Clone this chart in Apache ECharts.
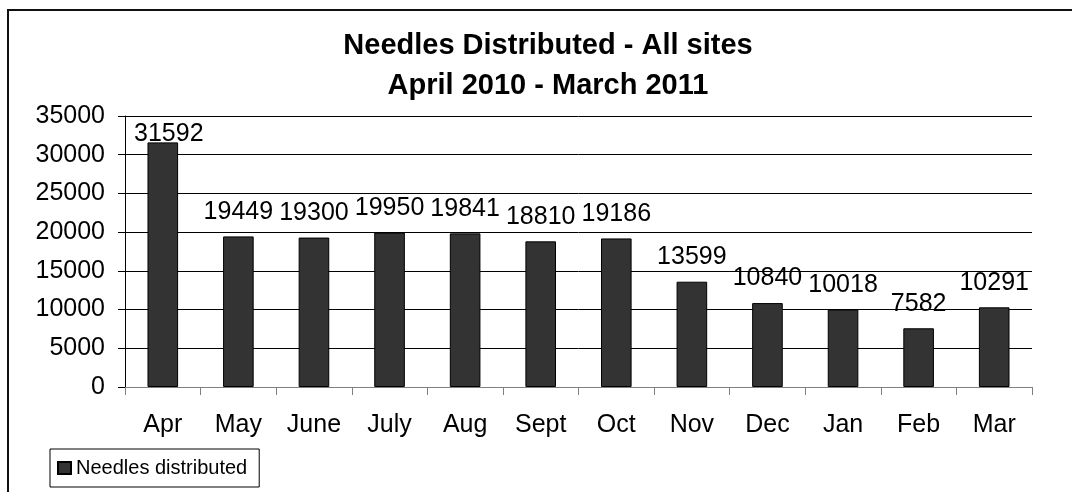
<!DOCTYPE html>
<html>
<head>
<meta charset="utf-8">
<script src="https://cdn.jsdelivr.net/npm/echarts@6/dist/echarts.min.js"></script>
<style>
html,body{margin:0;padding:0;background:#fff;overflow:hidden;}
#chart{width:1072px;height:492px;}
</style>
</head>
<body>
<div id="chart"></div>
<script>
var titleLines = ['Needles Distributed - All sites', 'April 2010 - March 2011'];
var categories = ['Apr','May','June','July','Aug','Sept','Oct','Nov','Dec','Jan','Feb','Mar'];
var needles = [31592,19449,19300,19950,19841,18810,19186,13599,10840,10018,7582,10291];
var yTicks = [0,5000,10000,15000,20000,25000,30000,35000];
var seriesName = 'Needles distributed';

var FONT = '"Liberation Sans", Arial, sans-serif';
var chart = echarts.init(document.getElementById('chart'), null, {renderer:'canvas'});

var barData = needles.map(function(v, i){
  if (i === 0) {
    return {value: v, label: {distance: -4, offset: [6, 0]}};
  }
  return v;
});

chart.setOption({
  animation: false,
  backgroundColor: '#fff',
  textStyle: {fontFamily: FONT},
  graphic: [
    {type:'rect', silent:true, shape:{x:8, y:10, width:1200, height:700},
     style:{fill:'none', stroke:'#111', lineWidth:2}},
    {type:'text', x:548, y:46.3, style:{text:titleLines[0], font:'bold 29px ' + FONT, fill:'#000', textAlign:'center', textVerticalAlign:'middle'}},
    {type:'text', x:548, y:86.3, style:{text:titleLines[1], font:'bold 29px ' + FONT, fill:'#000', textAlign:'center', textVerticalAlign:'middle'}}
  ],
  legend: {
    data: [seriesName],
    left: 50, top: 449,
    orient: 'horizontal',
    icon: 'rect',
    itemWidth: 13, itemHeight: 12,
    borderColor: '#000', borderWidth: 1,
    padding: [9, 12, 9, 7],
    textStyle: {fontSize: 20, color: '#000', fontFamily: FONT, lineHeight: 20}
  },
  grid: {left:125, right:40, top:116, bottom:105, containLabel:false},
  xAxis: {
    type: 'category',
    data: categories,
    axisLine: {show:true, lineStyle:{color:'#808080', width:1}},
    axisTick: {show:true, length:8, lineStyle:{color:'#808080'}},
    axisLabel: {fontSize:25, color:'#000', margin:26, fontFamily: FONT, interval:0},
    splitLine: {show:false}
  },
  yAxis: {
    type: 'value',
    min: yTicks[0], max: yTicks[yTicks.length-1], interval: yTicks[1]-yTicks[0],
    axisLine: {show:true, lineStyle:{color:'#000', width:1}},
    axisTick: {show:true, length:7, lineStyle:{color:'#000'}},
    axisLabel: {fontSize:25, color:'#000', margin:20, fontFamily: FONT,
      formatter: function(v){ return String(v); }},
    splitLine: {show:true, lineStyle:{color:'#000', width:1}}
  },
  series: [{
    name: seriesName,
    type: 'bar',
    data: barData,
    barWidth: '40.5%',
    itemStyle: {color:'#333333', borderColor:'#000', borderWidth:1},
    label: {show:true, position:'top', distance:12, fontSize:25, color:'#000', fontFamily: FONT}
  }]
});
</script>
</body>
</html>
